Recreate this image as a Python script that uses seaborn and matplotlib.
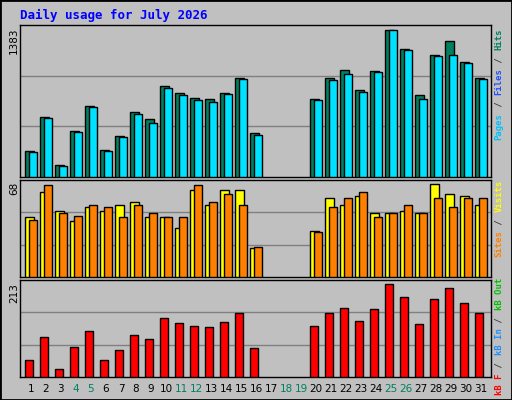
import numpy as np
import pandas as pd
import matplotlib
matplotlib.use("Agg")
import matplotlib.pyplot as plt
import seaborn as sns

days = [1,2,3,4,5,6,7,8,9,10,11,12,13,14,15,16,20,21,22,23,24,25,26,27,28,29,30,31]
hits = [247,566,116,435,670,257,388,613,548,857,792,745,735,792,932,416,735,932,1008,820,998,1383,1205,773,1148,1280,1083,932]
files = [238,557,106,426,660,247,379,595,510,839,773,726,707,782,923,397,726,914,970,801,989,1383,1195,735,1139,1148,1073,923]
visits = [44,62,48,41,51,48,53,55,44,44,36,64,53,64,64,21,34,58,53,59,47,47,48,47,68,61,59,53]
sites = [42,67,47,45,53,51,44,53,47,44,44,67,55,61,53,22,33,51,58,62,44,47,53,47,58,51,58,58]
kbytes = [40,92,19,68,106,40,61,96,87,136,124,117,115,127,148,66,117,148,159,129,157,213,185,122,180,204,171,148]
weekend = [4,5,11,12,18,19,25,26]
title = "Daily usage for July 2026"

BG = "#C0C0C0"
sns.set_theme(style="white")
plt.rcParams['font.family'] = ['DejaVu Sans']
fig = plt.figure(figsize=(5.12, 4.0), dpi=100, facecolor=BG)
W, H = 512, 400

def axpx(x0, y0, x1, y1):
    return fig.add_axes([x0/W, 1-y1/H, (x1-x0)/W, (y1-y0)/H])

ax1 = axpx(20, 25, 491, 177)
ax2 = axpx(20, 180, 491, 277)
ax3 = axpx(20, 280, 491, 377)
d = np.array(days, dtype=float)

def bars(ax, x, y, color):
    sns.barplot(x=x, y=y, ax=ax, native_scale=True, width=0.58, color=color,
                edgecolor="black", linewidth=1, saturation=1, zorder=3)

bars(ax1, d - 0.11, hits, "#00805F")
bars(ax1, d + 0.13, files, "#00E0FF")
bars(ax2, d - 0.11, visits, "#FFFF00")
bars(ax2, d + 0.13, sites, "#FF8000")
bars(ax3, d - 0.13, kbytes, "#FF0000")

for ax, top in ((ax1, 1426), (ax2, 71), (ax3, 223)):
    ax.set_facecolor(BG)
    ax.set_xlim(0.27, 31.67)
    ax.set_ylim(0, top)
    for f in (1/3, 2/3):
        ax.axhline(top*f, color="#808080", lw=1, zorder=1)
    ax.set_xticks([]); ax.set_yticks([])
    ax.set_xlabel(""); ax.set_ylabel("")
    for s in ax.spines.values():
        s.set_color("black"); s.set_linewidth(1)

mono = dict(family="DejaVu Sans Mono", fontweight="bold")
fig.text(20/W, 1-15/H, title, color="#0000FF", fontsize=9, va="center", ha="left", **mono)

fig.text(14/W, 1-28/H, "1383", rotation=90, va="top", ha="center", fontsize=7.5, color="black")
fig.text(14/W, 1-182/H, "68", rotation=90, va="top", ha="center", fontsize=7.5, color="black")
fig.text(14/W, 1-283/H, "213", rotation=90, va="top", ha="center", fontsize=7.5, color="black")

STEP = 5.6
def side(segments, ytop):
    y = ytop
    for txt, col in segments:
        fig.text(499/W, 1-y/H, txt, rotation=90, va="top", ha="center",
                 fontsize=6.4, color=col, **mono)
        y += STEP*len(txt)

side([("Hits", "#00805F"), (" / ", "#404040"), ("Files", "#2050FF"),
      (" / ", "#404040"), ("Pages", "#00C0FF")], 29)
side([("Visits", "#FFFF00"), (" / ", "#404040"), ("Sites", "#FF8000")], 180)
side([("kB Out", "#00C000"), (" / ", "#404040"), ("kB In", "#1E90FF"),
      (" / ", "#404040"), ("kB F", "#FF0000")], 278)

for day in range(1, 32):
    x = 20 + (day - 0.27) / (31.67 - 0.27) * 471
    fig.text(x/W, 1-389/H, str(day), ha="center", va="center", fontsize=7.5,
             color="#00805F" if day in weekend else "black")

fig.patches.append(plt.Rectangle((0, 0), 1, 1, transform=fig.transFigure,
                                 fill=False, edgecolor="black", lw=2))
fig.savefig("out.png", dpi=100, facecolor=BG)
